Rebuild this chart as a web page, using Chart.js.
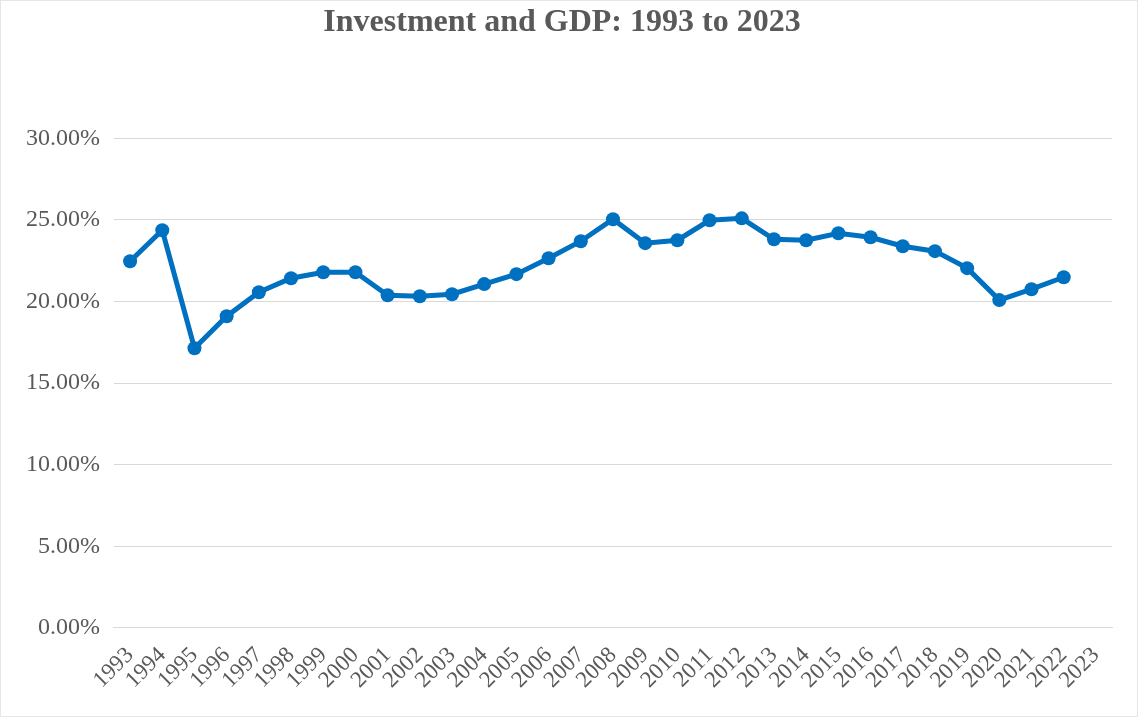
<!DOCTYPE html>
<html>
<head>
<meta charset="utf-8">
<script src="https://cdn.jsdelivr.net/npm/chart.js@4"></script>
<style>
  html, body { margin: 0; padding: 0; background: #fff; }
  #wrap { position: relative; width: 1138px; height: 717px; }
  #frame { position: absolute; left: 0; top: 0; right: 0; bottom: 0; border: 1px solid #e6e6e6; pointer-events: none; }
</style>
</head>
<body>
<div id="wrap">
  <canvas id="investChart" width="1138" height="717"></canvas>
  <div id="frame"></div>
</div>
<script>
const years = ["1993", "1994", "1995", "1996", "1997", "1998", "1999", "2000", "2001", "2002",
  "2003", "2004", "2005", "2006", "2007", "2008", "2009", "2010", "2011", "2012",
  "2013", "2014", "2015", "2016", "2017", "2018", "2019", "2020", "2021", "2022", "2023"];
// investment as % of GDP, 2023 has no value
const investment = [22.47, 24.37, 17.14, 19.10, 20.57, 21.43, 21.80, 21.80, 20.39, 20.33,
  20.45, 21.07, 21.68, 22.66, 23.70, 25.05, 23.58, 23.76, 24.98, 25.10,
  23.82, 23.76, 24.19, 23.94, 23.39, 23.09, 22.05, 20.09, 20.76, 21.49, null];

const textGrey = "#595959";
const gridGrey = "#d9d9d9";
const serif = "'Liberation Serif', 'Times New Roman', serif";

function createChart() {
  const data = {
    labels: years,
    datasets: [
      {
        label: "Investment / GDP",
        data: investment,
        borderColor: "#0070c0",
        backgroundColor: "#0070c0",
        borderWidth: 5,
        pointRadius: 7,
        pointHoverRadius: 7,
        pointBorderWidth: 0,
        tension: 0,
        spanGaps: false,
      },
    ],
  };

  const config = {
    type: "line",
    data: data,
    options: {
      responsive: false,
      animation: false,
      layout: {
        padding: { left: 12, right: 26, top: 0, bottom: 17 },
      },
      scales: {
        x: {
          offset: true,
          grid: { display: false },
          border: { display: true, color: gridGrey, width: 1 },
          ticks: {
            color: textGrey,
            font: { family: serif, size: 23 },
            maxRotation: 45,
            minRotation: 45,
            autoSkip: false,
            padding: 6,
          },
        },
        y: {
          min: 0,
          max: 30,
          grid: { color: gridGrey, lineWidth: 1, drawTicks: false },
          border: { display: false },
          ticks: {
            stepSize: 5,
            color: textGrey,
            font: { family: serif, size: 24 },
            padding: 14,
            callback: (v) => v.toFixed(2) + "%",
          },
        },
      },
      plugins: {
        legend: { display: false },
        tooltip: { enabled: false },
        title: {
          display: true,
          text: "Investment and GDP: 1993 to 2023",
          color: textGrey,
          font: { family: serif, size: 32, weight: "bold" },
          padding: { top: 4, bottom: 96 },
        },
      },
    },
  };

  new Chart(document.getElementById("investChart"), config);
}

createChart();
</script>
</body>
</html>
